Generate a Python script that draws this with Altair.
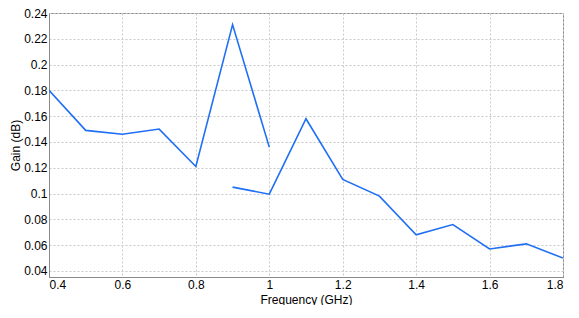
import altair as alt
import pandas as pd

seg1_freq = [0.4, 0.5, 0.6, 0.7, 0.8, 0.9, 1.0]
seg1_gain = [0.180, 0.149, 0.146, 0.150, 0.121, 0.231, 0.136]
seg2_freq = [0.9, 1.0, 1.1, 1.2, 1.3, 1.4, 1.5, 1.6, 1.7, 1.8]
seg2_gain = [0.105, 0.0995, 0.158, 0.111, 0.098, 0.068, 0.076, 0.057, 0.061, 0.050]
x_ticks = [0.4, 0.6, 0.8, 1.0, 1.2, 1.4, 1.6, 1.8]
y_ticks = [0.04, 0.06, 0.08, 0.10, 0.12, 0.14, 0.16, 0.18, 0.20, 0.22, 0.24]

rows = []
for i, (f, g) in enumerate(zip(seg1_freq, seg1_gain)):
    rows.append({"freq": f, "gain": g, "seg": "a", "order": i})
for i, (f, g) in enumerate(zip(seg2_freq, seg2_gain)):
    rows.append({"freq": f, "gain": g, "seg": "b", "order": i})
df = pd.DataFrame(rows)

font = "Liberation Sans"

chart = alt.Chart(df).mark_line(color="#1f6ff5", strokeWidth=1.6, clip=True).encode(
    x=alt.X("freq:Q", scale=alt.Scale(domain=[0.4, 1.8], nice=False, zero=False),
            axis=alt.Axis(values=x_ticks, format="~g", title="Frequency (GHz)",
                          grid=True, gridDash=[2, 2], gridColor="#c8c8c8",
                          ticks=False, domainColor="#8a8a8a", labelPadding=2,
                          titleBaseline="alphabetic", titleY=26)),
    y=alt.Y("gain:Q", scale=alt.Scale(domain=[0.0353, 0.24], nice=False, zero=False),
            axis=alt.Axis(values=y_ticks, format="~g", title="Gain (dB)",
                          grid=True, gridDash=[2, 2], gridColor="#c8c8c8",
                          ticks=False, domainColor="#8a8a8a", labelPadding=2,
                          titleX=-34, titleBaseline="middle")),
    detail="seg:N",
    order="order:Q",
).properties(
    width=514, height=264,
    autosize=alt.AutoSizeParams(type="none"),
    padding={"left": 41, "top": 5, "right": 8, "bottom": 28},
).configure_view(
    stroke="#8a8a8a", strokeWidth=1
).configure_axis(
    labelFont=font, titleFont=font, labelFontSize=12, titleFontSize=12,
    labelColor="#000000", titleColor="#000000", titleFontWeight="normal"
)

chart.save("out.html", embed_options={"renderer": "svg", "actions": False})
